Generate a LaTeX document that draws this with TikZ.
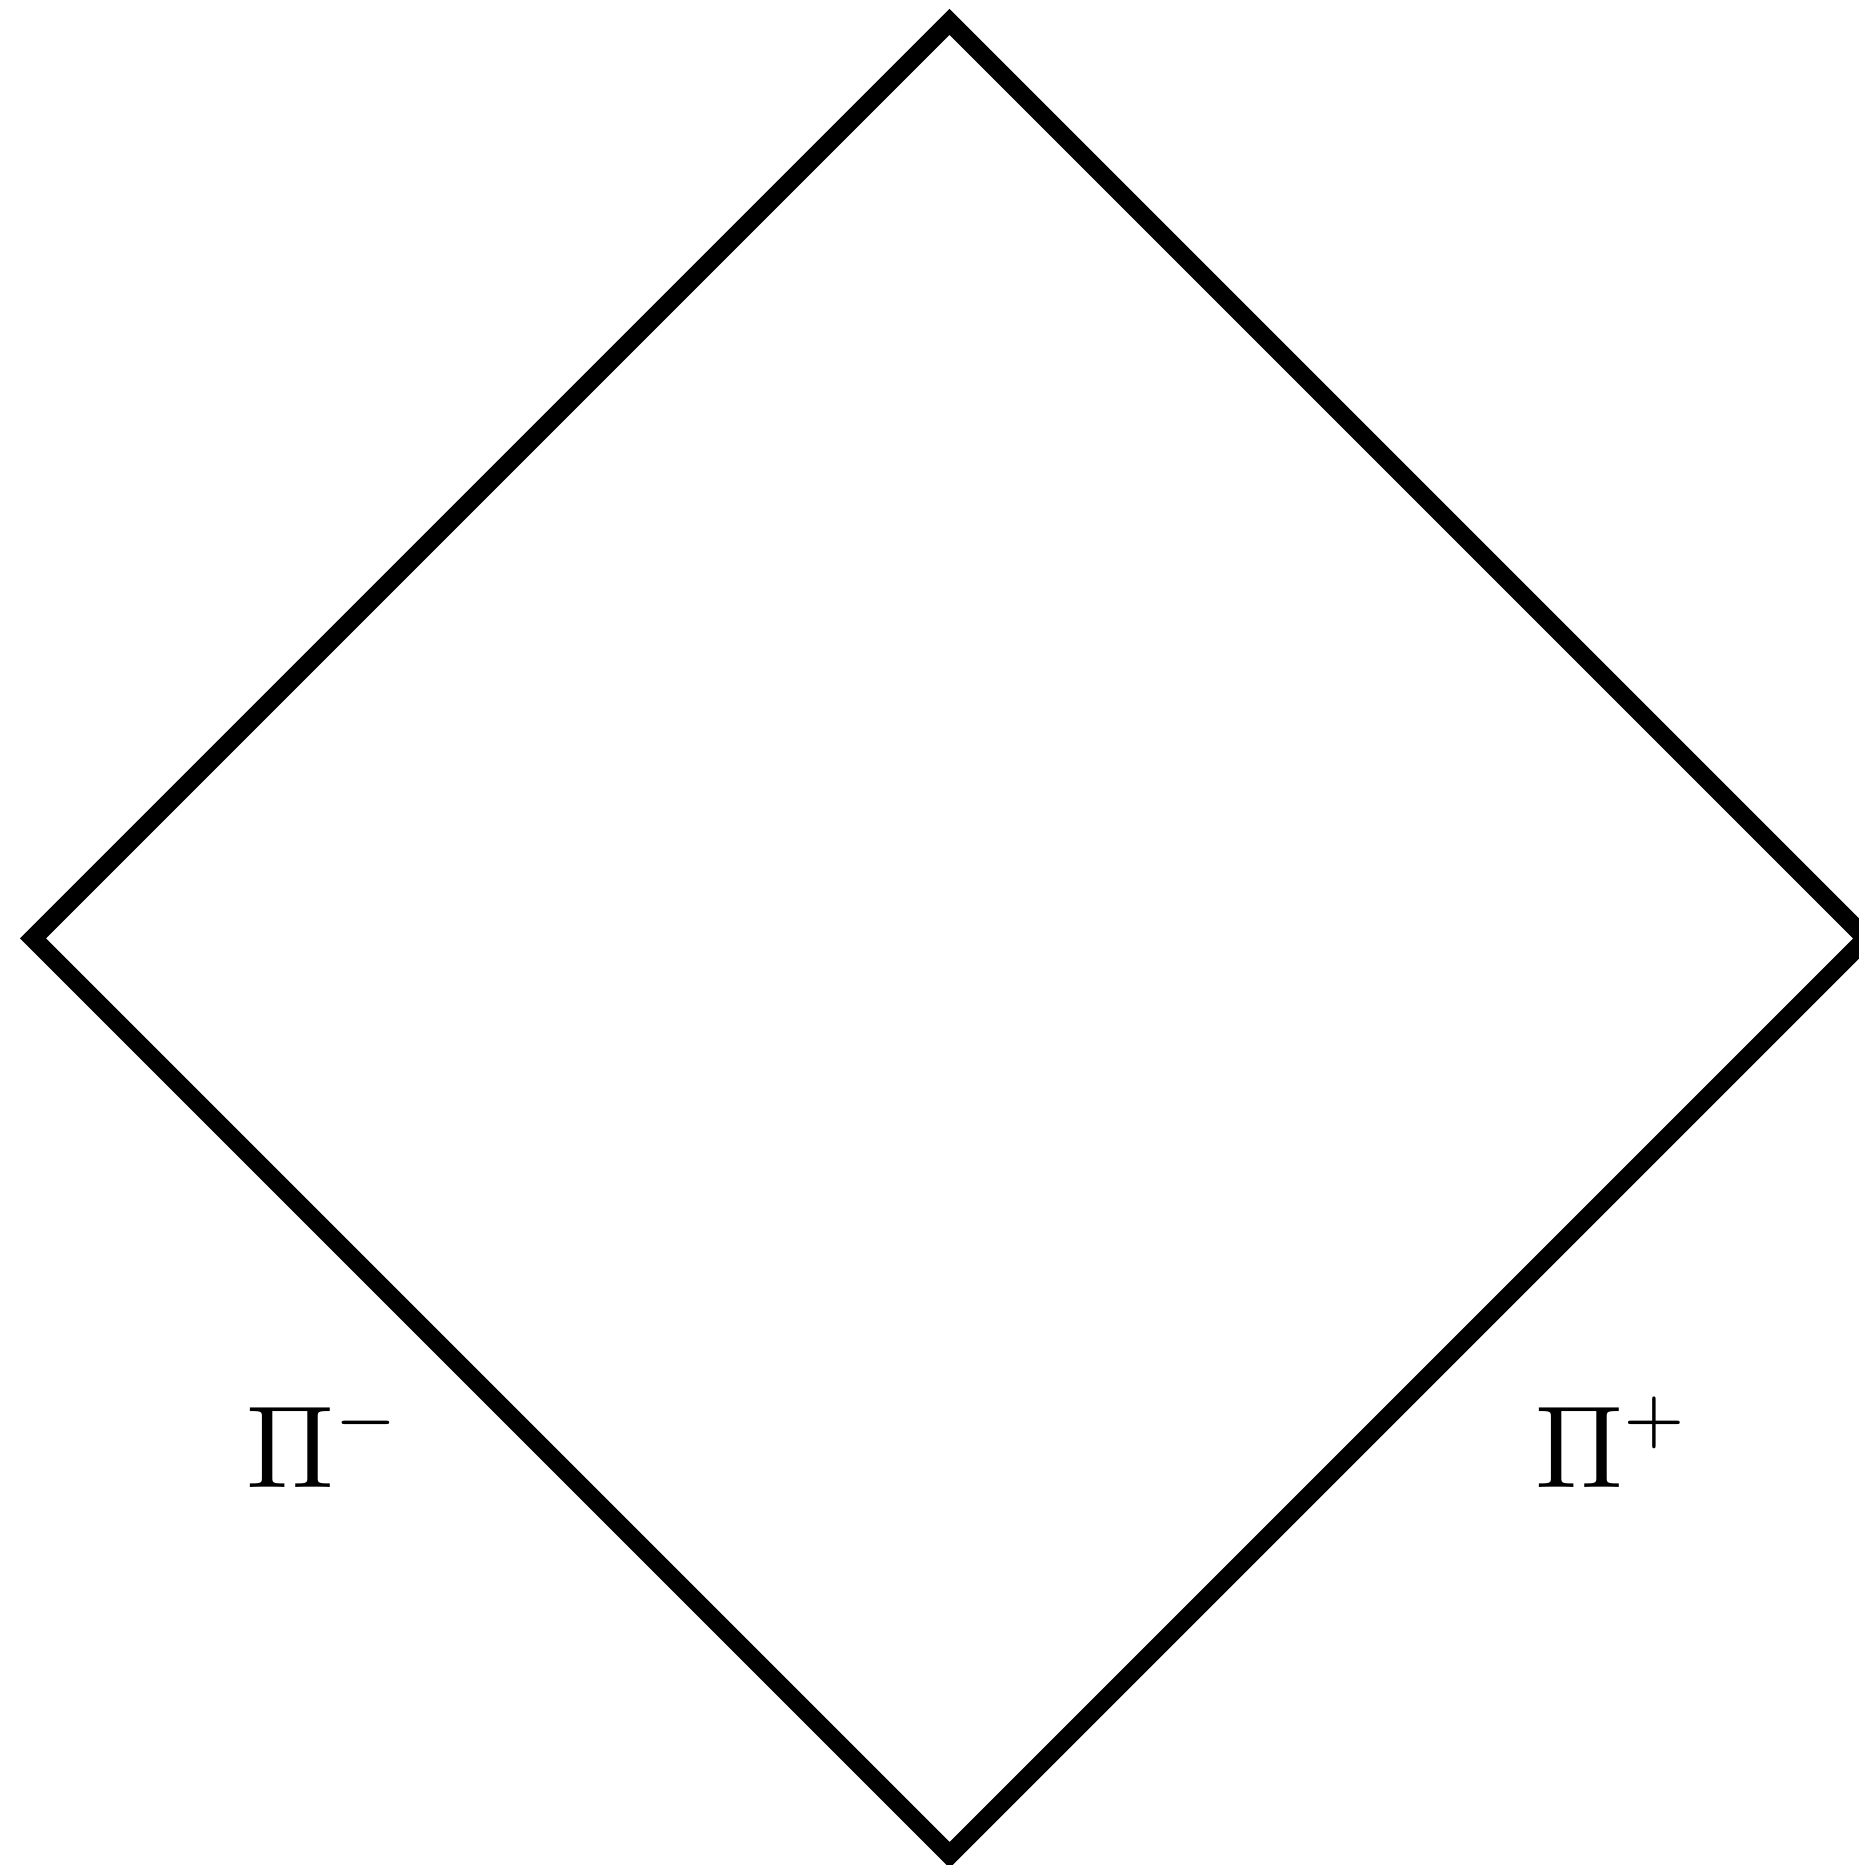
\documentclass[tikz,border=0pt]{standalone}
\usepackage{graphicx}
\begin{document}
\begin{tikzpicture}[x=1pt,y=1pt,
  edge/.style={line width=18.4pt, line join=miter},
  lab/.style={inner sep=0pt, anchor=base west, scale=11.7, transform shape}]
\useasboundingbox (0,0) rectangle (1858,1865);
\coordinate (T) at (949.5,1843);
\coordinate (L) at (33,926.5);
\coordinate (R) at (1866,926.5);
\coordinate (B) at (949.5,10);
\draw[edge] (T) -- (R) -- (B) -- (L) -- cycle;
\node[lab] (pm) at (244,377) {$\Pi^{\raisebox{0.45pt}{\scalebox{0.86}{$\scriptstyle-$}}}$};
\node[lab] (pp) at (1533,377) {$\Pi^{\raisebox{0.45pt}{\scalebox{0.86}{$\scriptstyle+$}}}$};
\end{tikzpicture}
\end{document}
